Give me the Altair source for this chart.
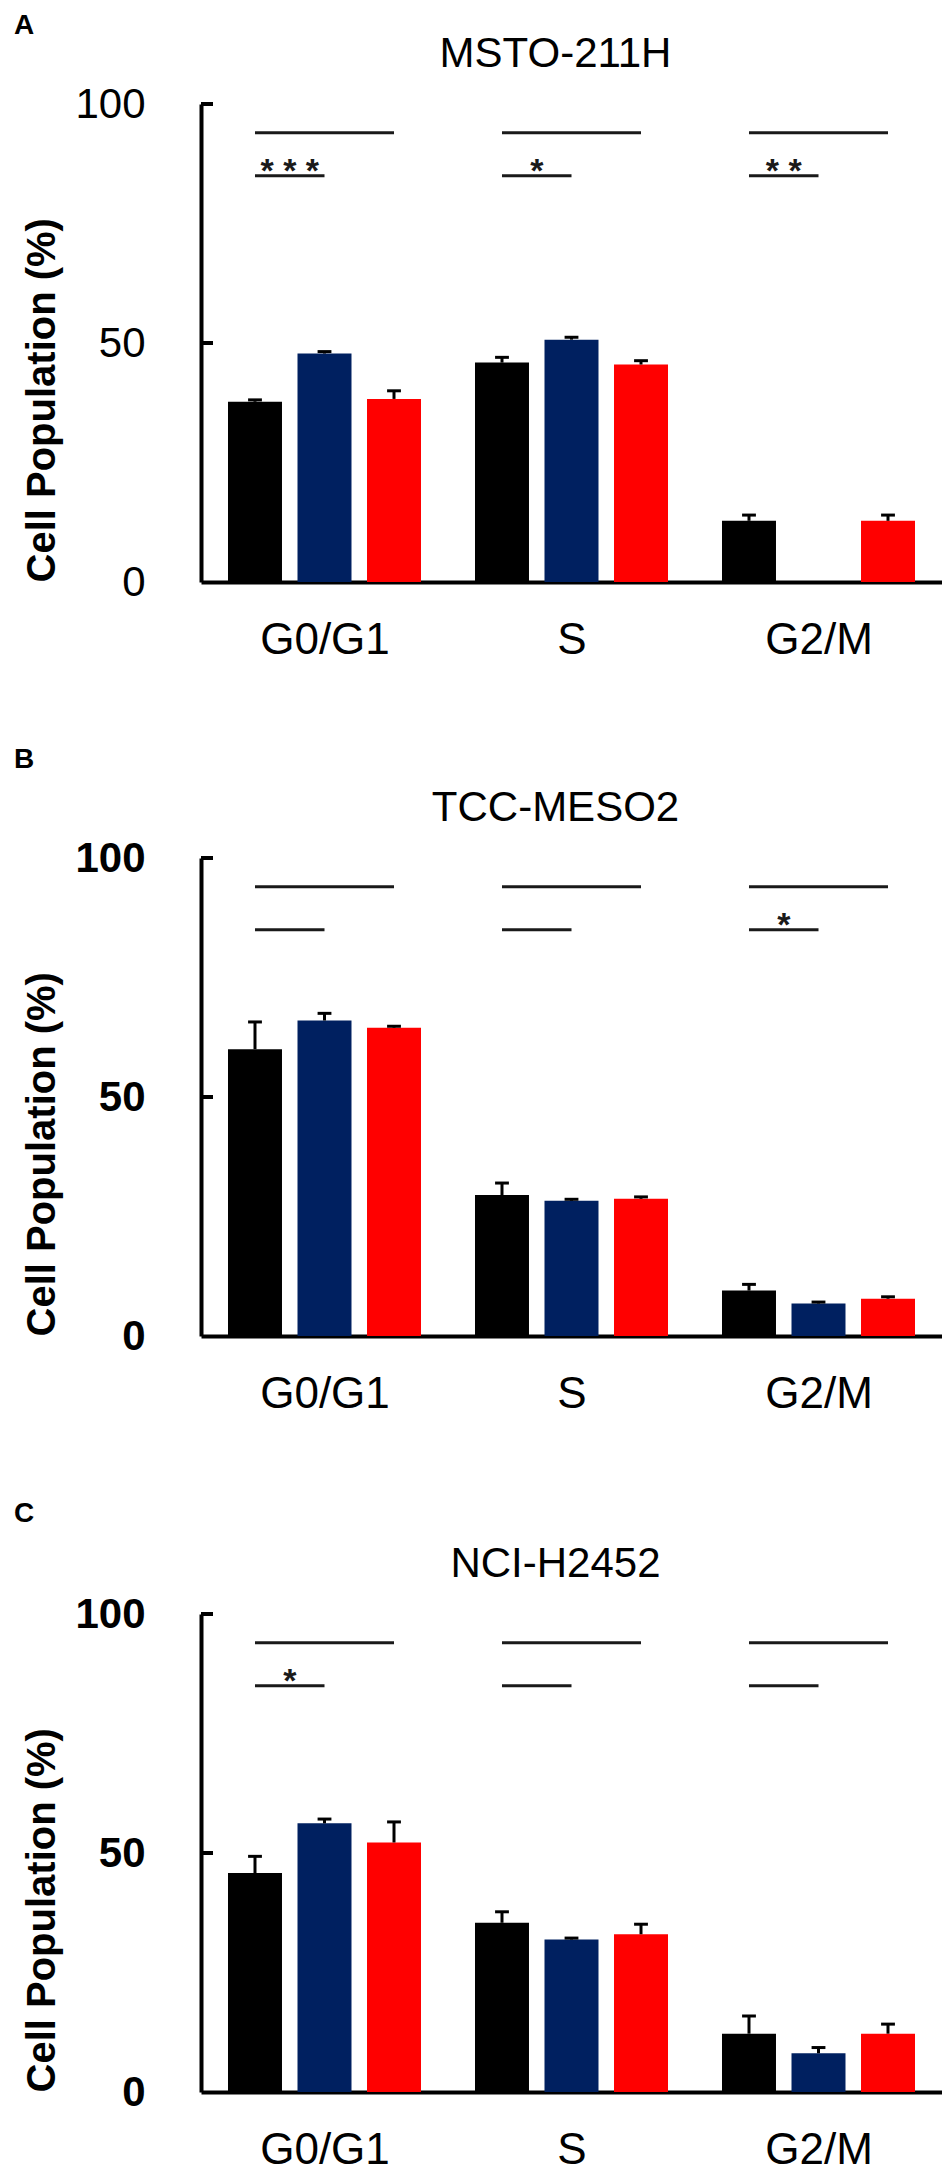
import altair as alt
import pandas as pd

# ---------------- data ----------------
phases = ["G0/G1", "S", "G2/M"]
series = ["Control", "Treatment 1", "Treatment 2"]
colors = ["#000000", "#002060", "#FF0000"]
tick_values = [0, 50, 100]

letters = ["A", "B", "C"]
cell_lines = ["MSTO-211H", "TCC-MESO2", "NCI-H2452"]

# MSTO-211H (means per phase, then SD)
msto_ctrl = [37.7, 45.9, 12.8]
msto_t1 = [47.8, 50.7, 0.0]
msto_t2 = [38.3, 45.5, 12.8]
msto_ctrl_sd = [0.4, 1.1, 1.2]
msto_t1_sd = [0.4, 0.5, 0.0]
msto_t2_sd = [1.7, 0.8, 1.2]
msto_sig = ["***", "*", "**"]

# TCC-MESO2
tcc_ctrl = [60.0, 29.5, 9.5]
tcc_t1 = [66.0, 28.3, 6.8]
tcc_t2 = [64.5, 28.7, 7.8]
tcc_ctrl_sd = [5.7, 2.5, 1.3]
tcc_t1_sd = [1.5, 0.3, 0.3]
tcc_t2_sd = [0.3, 0.4, 0.4]
tcc_sig = ["", "", "*"]

# NCI-H2452
nci_ctrl = [45.8, 35.4, 12.2]
nci_t1 = [56.2, 31.9, 8.1]
nci_t2 = [52.2, 33.0, 12.2]
nci_ctrl_sd = [3.5, 2.3, 3.7]
nci_t1_sd = [0.9, 0.3, 1.2]
nci_t2_sd = [4.3, 2.1, 2.0]
nci_sig = ["*", "", ""]

sig_long_y = 94
sig_short_y = 85

panel_means = [
    [msto_ctrl, msto_t1, msto_t2],
    [tcc_ctrl, tcc_t1, tcc_t2],
    [nci_ctrl, nci_t1, nci_t2],
]
panel_sds = [
    [msto_ctrl_sd, msto_t1_sd, msto_t2_sd],
    [tcc_ctrl_sd, tcc_t1_sd, tcc_t2_sd],
    [nci_ctrl_sd, nci_t1_sd, nci_t2_sd],
]
panel_sigs = [msto_sig, tcc_sig, nci_sig]

# ---------------- layout constants ----------------
PLOT_W = 741
heights = [478, 478, 478]
letter_offsets = [-7, 13, 15]
BAR_STEP = 0.2814   # offset between bars within a group (group width = 1)
BAR_HALF = 0.1093
CAP_HALF = 0.028

SANS = "Liberation Sans, Arial, sans-serif"

label_expr = " : ".join(
    f"datum.value < {i + 1} ? '{p}'" for i, p in enumerate(phases[:-1])
) + f" : '{phases[-1]}'"


def make_panel(k):
    rows = []
    for g, phase in enumerate(phases):
        for s, name in enumerate(series):
            xc = g + 0.5 + (s - 1) * BAR_STEP
            m = panel_means[k][s][g]
            sd = panel_sds[k][s][g]
            rows.append(dict(phase=phase, series=name, xc=xc,
                             x_lo=xc - BAR_HALF, x_hi=xc + BAR_HALF,
                             c_lo=xc - CAP_HALF, c_hi=xc + CAP_HALF,
                             value=m, top=m + sd, base=0.0, sd=sd))
    df = pd.DataFrame(rows)
    df_bar = df[df.value > 0]
    df_err = df[df.sd > 0]

    sig_rows = []
    star_rows = []
    for g, phase in enumerate(phases):
        x0 = g + 0.5 - BAR_STEP
        x1 = g + 0.5
        x2 = g + 0.5 + BAR_STEP
        sig_rows.append(dict(x1=x0, x2=x2, y=sig_long_y))
        sig_rows.append(dict(x1=x0, x2=x1, y=sig_short_y))
        lab = panel_sigs[k][g]
        if lab:
            star_rows.append(dict(x=(x0 + x1) / 2, y=sig_short_y,
                                  label=" ".join(lab)))
    df_sig = pd.DataFrame(sig_rows)
    df_star = pd.DataFrame(star_rows)
    df_ticks = pd.DataFrame(dict(v=tick_values[1:]))

    xs = alt.Scale(domain=[0, 3], nice=False, zero=False)
    ys = alt.Scale(domain=[0, 100], nice=False)
    label_weight = "normal" if k == 0 else "bold"

    x_axis = alt.Axis(values=[0.5, 1.5, 2.5], labelExpr=label_expr, title=None,
                      ticks=False, grid=False, domainColor="black", domainWidth=4,
                      labelFontSize=44, labelFont=SANS, labelColor="black",
                      labelPadding=36, labelFontWeight="normal")
    y_axis = alt.Axis(values=tick_values, title="Cell Population (%)",
                      ticks=False, grid=False, domainColor="black", domainWidth=4,
                      labelFontSize=42, labelFont=SANS, labelColor="black",
                      labelFontWeight=label_weight, labelPadding=56,
                      titleFontSize=40, titleFont=SANS, titleFontWeight="bold",
                      titleColor="black", titleAnchor="start", titlePadding=12)

    bars = alt.Chart(df_bar).mark_bar().encode(
        x=alt.X("x_lo:Q", scale=xs, axis=x_axis),
        x2="x_hi:Q",
        y=alt.Y("value:Q", scale=ys, axis=y_axis),
        y2="base:Q",
        color=alt.Color("series:N", scale=alt.Scale(domain=series, range=colors),
                        legend=None),
    )
    stems = alt.Chart(df_err).mark_rule(color="black", strokeWidth=3).encode(
        x="xc:Q", y="value:Q", y2="top:Q")
    caps = alt.Chart(df_err).mark_rule(color="black", strokeWidth=3).encode(
        x="c_lo:Q", x2="c_hi:Q", y="top:Q")
    sig = alt.Chart(df_sig).mark_rule(color="#1a1a1a", strokeWidth=3).encode(
        x="x1:Q", x2="x2:Q", y="y:Q")
    layers = [bars, stems, caps, sig]
    if len(df_star):
        stars = alt.Chart(df_star).mark_text(
            font=SANS, fontSize=34, fontWeight="bold", baseline="alphabetic",
            dy=6, color="#1a1a1a"
        ).encode(x="x:Q", y="y:Q", text="label:N")
        layers.append(stars)
    yticks = alt.Chart(df_ticks).mark_rule(color="black", strokeWidth=4).encode(
        y="v:Q", x=alt.value(0), x2=alt.value(12))
    layers.append(yticks)

    layer = alt.layer(*layers).properties(
        width=PLOT_W, height=heights[k],
        title=alt.Title(cell_lines[k], font=SANS, fontSize=42,
                        fontWeight="normal", color="black", offset=7, dx=-16),
    )
    return alt.vconcat(layer, title=alt.Title(
        letters[k], anchor="start", frame="group", font=SANS, fontSize=28,
        fontWeight="bold", color="black", offset=letter_offsets[k], dx=-187))


chart = alt.vconcat(make_panel(0), make_panel(1), make_panel(2), spacing=84
                    ).properties(padding={"left": 6, "top": 4, "right": 0, "bottom": 0}
                    ).configure_view(stroke=None)

chart.save("out.html", embed_options={"renderer": "svg", "actions": False})
